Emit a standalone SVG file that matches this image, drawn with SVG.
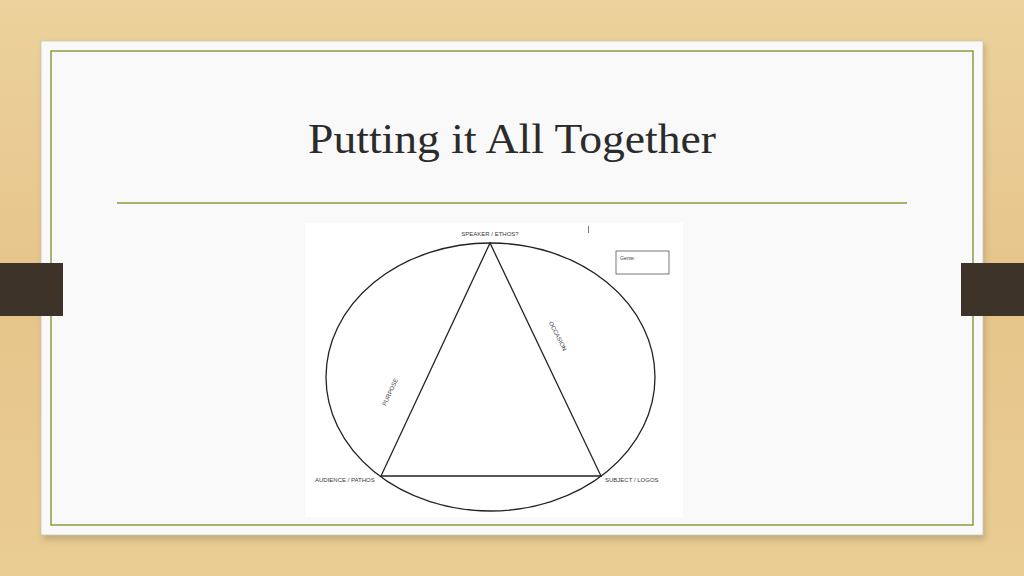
<svg xmlns="http://www.w3.org/2000/svg" width="1024" height="576" viewBox="0 0 1024 576">
<defs>
<linearGradient id="wood" x1="0" y1="0" x2="0" y2="1">
<stop offset="0" stop-color="#ecd29c"/>
<stop offset="0.5" stop-color="#e6c48a"/>
<stop offset="1" stop-color="#eacd93"/>
</linearGradient>
<filter id="sh" x="-5%" y="-5%" width="110%" height="115%">
<feGaussianBlur stdDeviation="3"/>
</filter>
<style>
.lbl{font-family:"Liberation Sans",Arial,sans-serif;font-size:6px;fill:#3a3a3a}
.ln{fill:none;stroke:#222;stroke-width:1.3}
.green{stroke:#86993a;fill:none}
.tab{fill:#3e3329}
</style>
</defs>
<rect width="1024" height="576" fill="url(#wood)"/>
<g id="slide">
<rect x="43" y="44" width="942" height="496" fill="#9a8a6a" opacity="0.5" filter="url(#sh)"/>
<rect x="41" y="41" width="942" height="494" fill="#f9f9f9" stroke="#cfc6b0" stroke-width="0.8"/>
<rect x="51" y="51" width="922" height="474" class="green" stroke-width="1.4"/>
</g>
<g id="tabs">
<rect class="tab" x="0" y="263" width="63" height="53"/>
<rect class="tab" x="961" y="263" width="63" height="53"/>
</g>
<g id="title">
<text x="512" y="153" text-anchor="middle" font-family="'Liberation Serif','Times New Roman',serif" font-size="42" fill="#2b2b2b" textLength="408" lengthAdjust="spacingAndGlyphs">Putting it All Together</text>
<line x1="117" y1="203" x2="907" y2="203" class="green" stroke-width="1.3"/>
</g>
<g id="picture">
<rect x="305" y="223" width="378" height="294" fill="#ffffff"/>
<line x1="588.5" y1="226" x2="588.5" y2="233" stroke="#555" stroke-width="0.8"/>
</g>
<g id="connectors">
<ellipse cx="490.5" cy="377" rx="164.5" ry="134" class="ln"/>
<polygon points="490,243 381,476 601,476" class="ln"/>
</g>
<g id="speaker"><text class="lbl" x="490" y="236" text-anchor="middle">SPEAKER / ETHOS?</text></g>
<g id="audience"><text class="lbl" x="315" y="482">AUDIENCE / PATHOS</text></g>
<g id="subject"><text class="lbl" x="605" y="482">SUBJECT / LOGOS</text></g>
<g id="purpose"><text class="lbl" x="0" y="0" text-anchor="middle" transform="translate(392,393) rotate(-65)">PURPOSE</text></g>
<g id="occasion"><text class="lbl" x="0" y="0" text-anchor="middle" transform="translate(556,337) rotate(63)">OCCASION</text></g>
<g id="genre">
<rect x="616" y="251" width="53" height="23" fill="#fff" stroke="#555" stroke-width="0.8"/>
<text class="lbl" x="620" y="260" style="font-size:5px">Genre:</text>
</g>
</svg>
